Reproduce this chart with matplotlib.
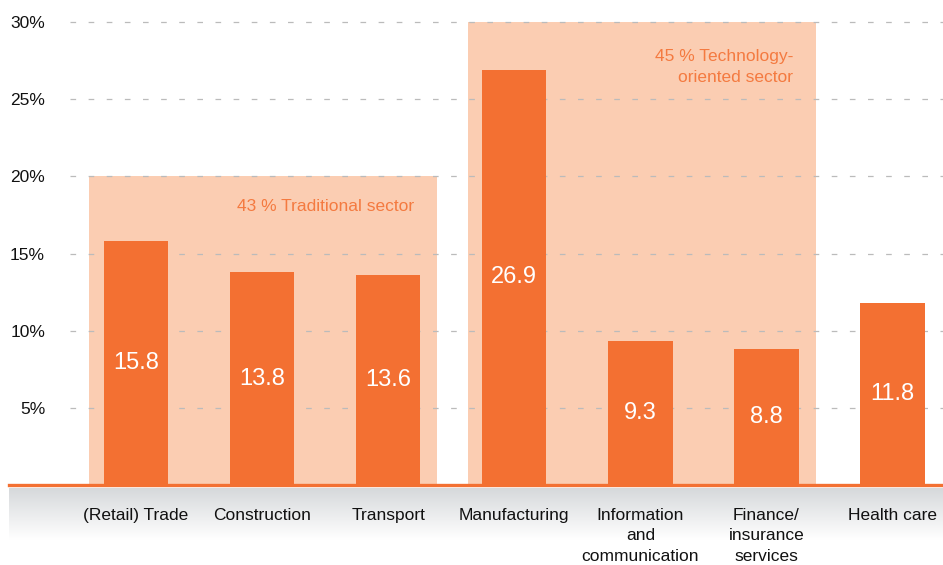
import numpy as np
import matplotlib.pyplot as plt

plt.rcParams['font.family'] = ['Liberation Sans', 'DejaVu Sans']

categories = ["(Retail) Trade", "Construction", "Transport", "Manufacturing",
              "Information\nand\ncommunication", "Finance/\ninsurance\nservices", "Health care"]
values = [15.8, 13.8, 13.6, 26.9, 9.3, 8.8, 11.8]
y_ticks = [5, 10, 15, 20, 25, 30]
y_labels = ["5%", "10%", "15%", "20%", "25%", "30%"]

# sector groups: (first index, last index, height, label)
groups = [
    (0, 2, 20, "43 % Traditional sector"),
    (3, 5, 30, "45 % Technology-\noriented sector"),
]

bar_color = "#F37032"
shade_color = "#FBCDB2"
text_color = "#F47A40"

W, H = 943, 565
fig = plt.figure(figsize=(W / 100, H / 100), dpi=100)

# grey gradient band below the baseline
gax = fig.add_axes([9 / W, (H - 540) / H, (W - 9) / W, 52 / H], zorder=0)
grad = np.linspace(0, 1, 100).reshape(-1, 1)
top = np.array([0.84, 0.85, 0.86])
rgb = top[None, None, :] + (1 - top[None, None, :]) * grad[:, :, None]
gax.imshow(rgb, aspect="auto", extent=[0, 1, 0, 1])
gax.axis("off")

ax = fig.add_axes([9 / W, (H - 485) / H, (W - 9) / W, 485 / H], zorder=1)
ax.patch.set_alpha(0)
x = np.arange(len(categories))
ax.set_xlim(-1.007, 6.40)
ax.set_ylim(0, 31.43)

for i0, i1, h, label in groups:
    ax.fill_between([i0 - 0.37, i1 + 0.39], 0, h, color=shade_color, lw=0, zorder=0)

ax.hlines(y_ticks, -0.523, 6.40, colors="#BBBBBB", lw=0.9,
          linestyles=(0, (4.5, 10)), zorder=1)

ax.bar(x, values, width=0.51, color=bar_color, zorder=2)
for xi, v in zip(x, values):
    ax.text(xi, v / 2, f"{v:.1f}", ha="center", va="center",
            color="white", fontsize=17, zorder=3)

ax.text(2.205, 18.08, groups[0][3], ha="right", va="center",
        color=text_color, fontsize=12.5, zorder=3)
ax.text(5.21, 27.1, groups[1][3], ha="right", va="center",
        color=text_color, fontsize=12.5, linespacing=1.45, zorder=3)

ax.axhline(0, color=bar_color, lw=2.4, zorder=4, clip_on=False)

ax.set_xticks(x)
ax.set_xticklabels(categories, fontsize=12.5, linespacing=1.45, color="#111111")
ax.set_yticks(y_ticks)
ax.set_yticklabels(y_labels, fontsize=12.5, color="#111111")
ax.tick_params(axis="x", length=0, pad=16.5)
ax.tick_params(axis="y", length=0, pad=-26)
for s in ax.spines.values():
    s.set_visible(False)

fig.savefig("out.png", dpi=100)
